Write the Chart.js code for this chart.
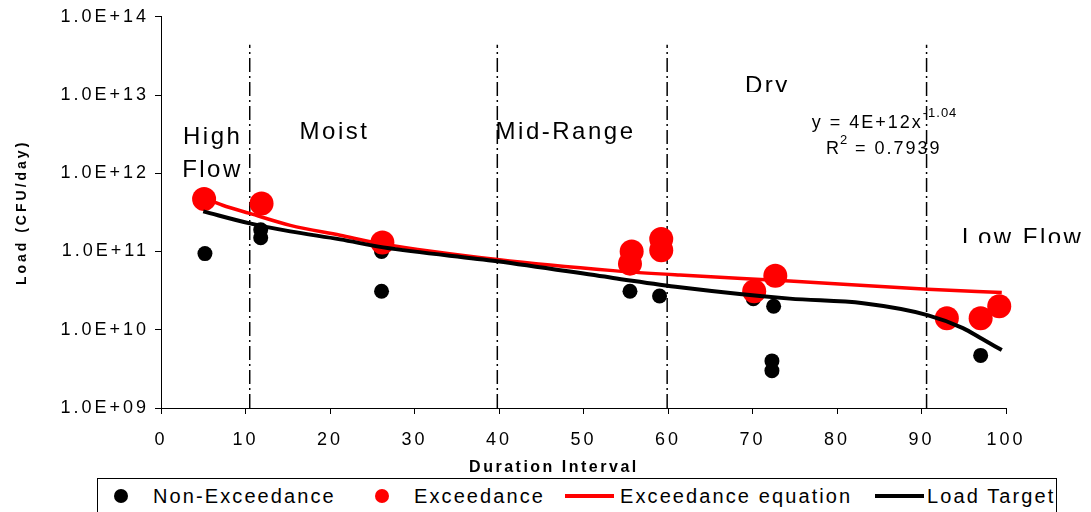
<!DOCTYPE html>
<html>
<head>
<meta charset="utf-8">
<script src="https://cdn.jsdelivr.net/npm/chart.js@4.4.1/dist/chart.umd.min.js"></script>
<style>
  body { margin: 0; background: #fff; }
  #wrap { position: relative; width: 1091px; height: 512px; overflow: hidden; font-family: "Liberation Sans", Arial, sans-serif; }
  #legend { position: absolute; left: 97px; top: 478px; width: 960px; height: 42px; border: 1px solid #000; box-sizing: border-box; background: #fff; }
  #legend span { position: absolute; }
  .txt { top: 6px; font-size: 20px; letter-spacing: 2.1px; line-height: 22px; color: #000; white-space: nowrap; }
  .dot { top: 10px; width: 14px; height: 14px; border-radius: 50%; }
  .ln { top: 15px; width: 49px; height: 4px; }
</style>
</head>
<body>
<div id="wrap">
  <canvas id="chart" width="1091" height="512"></canvas>
  <div id="legend">
    <span class="dot" style="left:16px;background:#000"></span>
    <span class="txt" style="left:55px">Non-Exceedance</span>
    <span class="dot" style="left:277px;background:#f00"></span>
    <span class="txt" style="left:316px">Exceedance</span>
    <span class="ln" style="left:467px;background:#f00"></span>
    <span class="txt" style="left:522px">Exceedance equation</span>
    <span class="ln" style="left:777px;background:#000"></span>
    <span class="txt" style="left:829px">Load Target</span>
  </div>
</div>
<script>
// observed loads (duration interval %, CFU/day)
const nonExcX = [5.2, 11.8, 11.8, 26.1, 26.1, 55.5, 59.0, 70.1, 72.5, 72.3, 72.3, 97.0];
const nonExcY = [9.4e10, 1.9e11, 1.5e11, 1.0e11, 3.1e10, 3.1e10, 2.7e10, 2.5e10, 2.0e10, 4.0e9, 3.0e9, 4.7e9];
const excX = [5.1, 11.9, 26.2, 55.7, 55.5, 59.2, 59.2, 70.2, 72.7, 93.0, 97.0, 99.2];
const excY = [4.7e11, 4.1e11, 1.3e11, 1.0e11, 7.0e10, 1.45e11, 1.04e11, 3.1e10, 4.9e10, 1.4e10, 1.4e10, 2.0e10];

// curves
const eqX = [5.2, 7.3, 10.5, 15.3, 21.2, 25.9, 39.8, 53.5, 61.4, 74.4, 90.7, 99.5];
const eqY = [4.8e11, 3.9e11, 3.07e11, 2.16e11, 1.61e11, 1.27e11, 7.9e10, 5.7e10, 5.0e10, 4.2e10, 3.3e10, 3.0e10];
const targetX = [5.0, 10.5, 15.3, 21.2, 26.3, 39.8, 53.5, 61.4, 74.4, 83.1, 90.7, 94.9, 97.2, 99.5];
const targetY = [3.26e11, 2.29e11, 1.81e11, 1.43e11, 1.13e11, 7.5e10, 4.6e10, 3.5e10, 2.5e10, 2.18e10, 1.54e10, 1.05e10, 7.6e9, 5.5e9];

// flow zone boundaries
const zoneBounds = [10.5, 39.8, 59.9, 90.6];
const zoneTop = 4.4e13;
const yTicks = [1e9, 1e10, 1e11, 1e12, 1e13, 1e14];

function pts(xs, ys) {
    return xs.map(function (x, i) { return { x: x, y: ys[i] }; });
}

var datasets = [
    { label: 'Load Target', data: pts(targetX, targetY), showLine: true, borderColor: '#000', borderWidth: 4,
      pointRadius: 0, cubicInterpolationMode: 'monotone', order: 1 },
    { label: 'Exceedance equation', data: pts(eqX, eqY), showLine: true, borderColor: '#f00', borderWidth: 3.5,
      pointRadius: 0, cubicInterpolationMode: 'monotone', order: 2 },
    { label: 'Exceedance', data: pts(excX, excY), backgroundColor: '#f00', borderWidth: 0,
      pointRadius: 12, clip: false, order: 3 },
    { label: 'Non-Exceedance', data: pts(nonExcX, nonExcY), backgroundColor: '#000', borderWidth: 0,
      pointRadius: 7.5, clip: false, order: 4 }
];
zoneBounds.forEach(function (b) {
    datasets.push({ label: 'zone', data: [{ x: b, y: 1e9 }, { x: b, y: zoneTop }], showLine: true,
        borderColor: '#000', borderWidth: 1.5, borderDash: [14, 4, 2, 4], pointRadius: 0, order: 5 });
});

function spacing(chart) {
    chart.ctx.letterSpacing = '3px';
}

// texts inside the plot: zone names and the trend equation
var notes = {
    id: 'notes',
    beforeLayout: spacing,
    beforeDraw: spacing,
    afterDatasetsDraw: function (chart) {
        var ctx = chart.ctx, xs = chart.scales.x, ys = chart.scales.y;
        function px(v) { return xs.getPixelForValue(v); }
        function py(v) { return ys.getPixelForValue(v); }
        ctx.save();
        ctx.fillStyle = '#000';
        ctx.textAlign = 'left';
        ctx.textBaseline = 'alphabetic';
        ctx.font = '24px "Liberation Sans", Arial, sans-serif';
        ctx.letterSpacing = '2.5px';
        ctx.fillText('High', px(2.6), py(Math.pow(10, 12.38)));
        ctx.fillText('Flow', px(2.5), py(Math.pow(10, 11.95)));
        ctx.fillText('Moist', px(16.4), py(Math.pow(10, 12.44)));
        ctx.fillText('Mid-Range', px(39.6), py(Math.pow(10, 12.44)));

        // clipped text boxes
        ctx.save();
        ctx.beginPath();
        ctx.rect(0, 0, chart.width, py(Math.pow(10, 13.04)));
        ctx.clip();
        ctx.fillText('Dry', px(69.1), py(Math.pow(10, 13.02)));
        ctx.restore();
        ctx.save();
        ctx.beginPath();
        ctx.rect(0, 0, chart.width, py(Math.pow(10, 11.11)));
        ctx.clip();
        ctx.fillText('Low Flow', px(94.8), py(Math.pow(10, 11.08)));
        ctx.restore();

        // equation
        ctx.font = '18px "Liberation Sans", Arial, sans-serif';
        ctx.letterSpacing = '2px';
        var x0 = px(77.0), b0 = py(Math.pow(10, 12.584));
        var s1 = 'y = 4E+12x';
        ctx.fillText(s1, x0, b0);
        var w1 = ctx.measureText(s1).width;
        ctx.font = '13px "Liberation Sans", Arial, sans-serif';
        ctx.letterSpacing = '1px';
        ctx.fillText('-1.04', x0 + w1, b0 - 11);
        ctx.font = '18px "Liberation Sans", Arial, sans-serif';
        ctx.letterSpacing = '2px';
        var x1 = px(78.7), b1 = py(Math.pow(10, 12.25));
        ctx.fillText('R', x1, b1);
        var wr = ctx.measureText('R').width;
        ctx.font = '13px "Liberation Sans", Arial, sans-serif';
        ctx.letterSpacing = '1px';
        ctx.fillText('2', x1 + wr - 1, b1 - 10);
        ctx.font = '18px "Liberation Sans", Arial, sans-serif';
        ctx.letterSpacing = '2px';
        ctx.fillText(' = 0.7939', x1 + wr + 7, b1);

        // x axis title
        ctx.font = 'bold 16px "Liberation Sans", Arial, sans-serif';
        ctx.letterSpacing = '2.5px';
        ctx.textAlign = 'center';
        ctx.fillText('Duration Interval', px(46.5), chart.chartArea.bottom + 64);
        ctx.restore();
    }
};

var tickFont = { family: '"Liberation Sans", Arial, sans-serif', size: 18 };

new Chart(document.getElementById('chart').getContext('2d'), {
    type: 'scatter',
    data: { datasets: datasets },
    options: {
        responsive: false,
        animation: false,
        layout: { padding: { left: 0, top: 16, right: 85, bottom: 0 } },
        plugins: { legend: { display: false }, tooltip: { enabled: false } },
        scales: {
            x: {
                type: 'linear', min: 0, max: 100,
                ticks: { stepSize: 10, color: '#000', font: tickFont, padding: 15, maxRotation: 0 },
                grid: { drawOnChartArea: false, drawTicks: true, tickLength: 6, color: '#000' },
                border: { display: true, color: '#000', width: 1 },
                afterFit: function (scale) { scale.height = 104; }
            },
            y: {
                type: 'logarithmic', min: 1e9, max: 1e14,
                afterBuildTicks: function (scale) {
                    scale.ticks = yTicks.map(function (v) { return { value: v }; });
                },
                ticks: {
                    color: '#000', font: tickFont, padding: 6,
                    callback: function (v) {
                        var e = Math.round(Math.log10(v));
                        return '1.0E+' + (e < 10 ? '0' + e : e);
                    }
                },
                grid: { drawOnChartArea: false, drawTicks: true, tickLength: 6, color: '#000' },
                border: { display: true, color: '#000', width: 1 },
                title: {
                    display: true, text: 'Load (CFU/day)', color: '#000',
                    font: { family: '"Liberation Sans", Arial, sans-serif', size: 14, weight: 'bold' },
                    padding: { top: 14, bottom: 0 }
                },
                afterFit: function (scale) { scale.width = 161; }
            }
        }
    },
    plugins: [notes]
});
</script>
</body>
</html>
